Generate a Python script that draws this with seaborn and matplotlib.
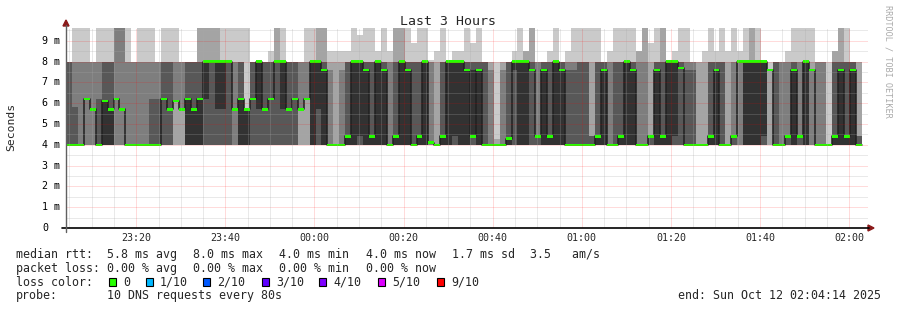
import numpy as np
import pandas as pd
import matplotlib
matplotlib.use("Agg")
import matplotlib.pyplot as plt
from matplotlib.patches import Polygon
import seaborn as sns

sns.set_theme(style="white")
plt.rcParams['font.family'] = ['DejaVu Sans Mono', 'DejaVu Sans']

# ---------------- data ----------------
step_min = 80 / 60.0          # one probe round every 80 s
tick_labels = ["23:20", "23:40", "00:00", "00:20", "00:40",
               "01:00", "01:20", "01:40", "02:00"]
first_tick_min = 15.77         # 23:20 relative to 23:04:14

median_ms = [
    4.0, 4.0, 4.0, 6.2, 5.7, 4.0, 6.1, 5.7, 6.2, 5.7,
    4.0, 4.0, 4.0, 4.0, 4.0, 4.0, 6.2, 5.7, 6.1, 5.7,
    6.2, 5.7, 6.2, 8.0, 8.0, 8.0, 8.0, 8.0, 5.7, 6.2,
    5.7, 6.2, 8.0, 5.7, 6.2, 8.0, 8.0, 5.7, 6.2, 5.7,
    6.2, 8.0, 8.0, 7.6, 4.0, 4.0, 4.0, 4.4, 8.0, 8.0,
    7.6, 4.4, 8.0, 7.6, 4.0, 4.4, 8.0, 7.6, 4.0, 4.4,
    8.0, 4.1, 4.0, 4.4, 8.0, 8.0, 8.0, 7.6, 4.4, 7.6,
    4.0, 4.0, 4.0, 4.0, 4.3, 8.0, 8.0, 8.0, 7.6, 4.4,
    7.6, 4.4, 8.0, 7.6, 4.0, 4.0, 4.0, 4.0, 4.0, 4.4,
    7.6, 4.0, 4.0, 4.4, 8.0, 7.6, 4.0, 4.0, 4.4, 7.6,
    4.4, 8.0, 8.0, 7.7, 4.0, 4.0, 4.0, 4.0, 4.4, 7.6,
    4.0, 4.0, 4.4, 8.0, 8.0, 8.0, 8.0, 8.0, 7.6, 4.0,
    4.0, 4.4, 7.6, 4.4, 8.0, 7.6, 4.0, 4.0, 4.0, 4.4,
    7.6, 4.4, 7.6, 4.0,
]

# sorted ping times of each round, "value*count"
ping_spec = [
    # 0-9
    "4*6 8*4", "4*6 5.8 8*2 9.7", "4*7 8*2 9.7", "4*3 6.2*4 8*2 9.7", "4*3 5.7*4 8*3",
    "4*6 6.2 8*2 9.7", "4*5 6.1 8*3 9.7", "4*5 5.7 8*3 9.7", "4*3 6.2*4 9.7*3", "4*3 5.7*4 9.7*3",
    # 10-19
    "4*7 8*2 9.7", "4*7 8*3", "4*7 8*2 9.7", "4*7 8*2 9.7", "4*6 6.2 8*2 9.7",
    "4*6 6.2 8*3", "4*4 6.2*2 8*3 9.7", "4*4 5.7*2 8*3 9.7", "4*2 6.1*5 8*2 9.7", "4*2 5.7*5 8*3",
    # 20-29
    "4*5 6.2 8*4", "4*5 5.7 8*4", "4*5 6.2 8*2 9.7*2", "4*4 6.2 8*3 9.7*2", "4*4 8*4 9.7*2",
    "4*4 5.7 8*3 9.7*2", "4*4 5.7 8*4 9.7", "4*4 8*5 9.7", "4*3 5.7*4 8*2 9.7", "4*5 6.2 8*3 9.7",
    # 30-39
    "4*5 5.7*4 9.7", "4*4 6.2*2 8*4", "4*4 5.7 8*5", "4*4 5.7*2 8*4", "4*4 6.2*2 8*3 8.5",
    "4*4 8*4 9.7*2", "4*4 5.7 8*4 9.7", "4*4 5.7*2 8*4", "4*4 6.2*2 8*4", "4*2 5.7*5 8*3",
    # 40-49
    "4*2 6.2*5 8*2 9.7", "4*5 8*4 9.7", "4*4 5.7 8*3 9.7*2", "4*5 7.6 8*2 9.7*2", "4*7 7.6 8 8.5",
    "4*8 8 8.5", "4*7 7.6 8 8.5", "4*5 4.4 8*3 8.5", "4*5 8*4 9.7", "4*4 4.4 8*4 9.3",
    # 50-59
    "4*5 7.6 8*3 9.7", "4*5 4.4 8*3 9.7", "4*5 8*4 8.5", "4*5 7.6 8*3 9.7", "4*7 8*2 8.5",
    "4*5 4.4 8*2 9.7*2", "4*5 8*3 9.7*2", "4*5 7.6 8*3 9.7", "4*6 8*3 8.9", "4*5 4.4 8*3 9.7",
    # 60-69
    "4*5 8*4 9.7", "4*7 8*2 8.1", "4*8 8 8.5", "4*5 4.4 8*3 9.7", "4*5 8*5",
    "4*4 4.4 8*4 8.5", "4*5 8*4 8.5", "4*5 7.6 8*3 9.7", "4*4 4.4 7.6 8*3 8.9", "4*5 7.6 8*3 9.7",
    # 70-79
    "4*6 8*4", "4*7 7.6 8*2", "4*8 4.3 8", "4*7 7.6 8*2", "4*5 4.3 8*4",
    "4*4 7.6 8*4 8.5", "4*5 8*4 9.7", "4*5 8*3 8.5*2", "4*4 7.6*2 8*2 9.7*2", "4*4 4.4*3 8*3",
    # 80-89
    "4*5 7.6 8*4", "4*5 4.4 8*3 8.5", "4*5 8*4 9.7", "4*5 7.6 8*4", "4*6 7.6 8*2 8.5",
    "4*6 7.6 8*2 9.7", "4*6 8*3 9.7", "4*6 8*3 9.7", "4*4 4.4*4 8 9.7", "4*5 4.4 8*3 9.7",
    # 90-99
    "4*5 7.6 8*4", "4*7 8*2 8.5", "4*6 8*3 9.7", "4*5 4.4 8*3 9.7", "4*5 8*4 9.7",
    "4*5 7.6 8*3 9.7", "4*7 8 8.5*2", "4*7 8 9.7*2", "4*4 4.4*4 8 8.9", "4*5 7.6 8*3 9.7",
    # 100-109
    "4*5 4.4 8*2 9.7*2", "4*5 8*5", "4*4 4.4 8*4 8.5", "4*4 7.7*2 8*3 9.7", "4*6 7.6 8*2 9.7",
    "4*6 7.6 8*3", "4*8 8*2", "4*8 8 8.5", "4*5 4.4 8*3 9.7", "4*5 7.6 8*3 8.5",
    # 110-119
    "4*6 8*3 9.7", "4*8 8 8.5", "4*4 4.4*3 8*2 9.7", "4*3 8*6 8.5", "4*5 8*4 9.7",
    "4*5 8*3 9.7*2", "4*5 8*4 9.7", "4*4 4.4 8*5", "4*8 7.6 8", "4*6 8*4",
    # 120-129
    "4*7 8*3", "4*4 4.4*3 8*2 8.5", "4*5 7.6 8*3 9.7", "4*4 4.4*3 8*2 9.7", "4*5 8*4 9.7",
    "4*7 7.6 8 9.7", "4*7 8*3", "4*7 8*3", "4*9 8", "4*5 4.4 8*2 8.5*2",
    # 130-133
    "4*5 7.6 8*2 9.7*2", "4*5 4.4 8*3 9.7", "4*5 7.6 8*4", "4*4 4.4*4 8*2",
]

legend_labels = ["0", "1/10", "2/10", "3/10", "4/10", "5/10", "9/10"]
legend_colors = ["#26ff00", "#00b8ff", "#0059ff", "#5e00ff", "#7e00ff", "#dd00ff", "#ff0000"]

# ---------------- build table ----------------
def parse(spec):
    vals = []
    for tok in spec.split():
        if "*" in tok:
            v, n = tok.split("*")
            vals += [float(v)] * int(n)
        else:
            vals.append(float(tok))
    vals = sorted(vals)[:10]
    while len(vals) < 10:
        vals.append(8.0)
    return sorted(vals)

pings = np.array([parse(s) for s in ping_spec])
nb = len(median_ms)
start = np.arange(nb) * step_min
df = pd.DataFrame({"start": start, "median": median_ms})

W, H = 897, 310
fig = plt.figure(figsize=(W / 100, H / 100), dpi=100)
fig.patch.set_facecolor("white")

def fx(px):
    return px / W

def fy(py):
    return 1 - py / H

x0, x1, ytop, ybot = 66, 868, 28, 228
ax = fig.add_axes([fx(x0), fy(ybot), (x1 - x0) / W, (ybot - ytop) / H])
ymax = (ybot - ytop) / 20.8
ax.set_xlim(0, 180)
ax.set_ylim(0, ymax)
ax.set_facecolor("white")
for s in ax.spines.values():
    s.set_visible(False)
ax.set_xticks([])
ax.set_yticks([])

# smoke: band k spans ping k .. ping (11-k)
shades = ["#cacaca", "#a4a4a4", "#7e7e7e", "#585858", "#323232"]
for k in range(5):
    lo = pings[:, k]
    hi = pings[:, 9 - k]
    ax.bar(start, hi - lo, bottom=lo, width=step_min, align="edge",
           color=shades[k], linewidth=0, antialiased=False, zorder=1)

# median black step line
xs = np.append(start, start[-1] + step_min)
ys = np.append(df["median"].values, df["median"].values[-1])
sns.lineplot(x=xs, y=ys, drawstyle="steps-post", color="#202020", lw=1.1,
             ax=ax, estimator=None, zorder=2)

# green median marks (loss 0)
mh = 1.3 / 20.8
ax.bar(df["start"], 2 * mh, bottom=df["median"] - mh, width=step_min,
       align="edge", color=legend_colors[0], linewidth=0, zorder=3)

# grid (dotted)
dot = dict(lw=0.72, ls=(0, (1, 1)), zorder=4)
for v in np.arange(0.5, ymax, 1.0):
    ax.axhline(v, color="#a8a8a8", alpha=0.5, **dot)
for v in np.arange(1, ymax, 1.0):
    ax.axhline(v, color="#ff0000", alpha=0.28, **dot)
ticks = first_tick_min + 20 * np.arange(len(tick_labels))
minor = np.arange(first_tick_min - 15, 180, 5)
for v in minor:
    if min(abs(v - ticks)) > 0.1 and v > 0.2:
        ax.axvline(v, color="#a8a8a8", alpha=0.5, **dot)
for v in ticks:
    ax.axvline(v, color="#ff0000", alpha=0.28, **dot)

# axes lines and arrows
fig.add_artist(plt.Line2D([fx(62), fx(869)], [fy(228), fy(228)], color="black", lw=1.2))
fig.add_artist(plt.Line2D([fx(66), fx(66)], [fy(232), fy(25)], color="#606060", lw=1.0))
arrow_c = "#8b1a1a"
fig.add_artist(Polygon([[fx(63), fy(26)], [fx(69), fy(26)], [fx(66), fy(20)]],
                       closed=True, color=arrow_c, transform=fig.transFigure))
fig.add_artist(Polygon([[fx(868), fy(225)], [fx(868), fy(231)], [fx(874), fy(228)]],
                       closed=True, color=arrow_c, transform=fig.transFigure))

# y tick labels
for v in range(0, 10):
    py = ybot - v * 20.8
    fig.text(fx(42), fy(py), "0" if v == 0 else f"{v} m", fontsize=7.2,
             ha="left", va="center", color="#000000")
# x tick labels
for t, lab in zip(ticks, tick_labels):
    px = x0 + t / 180 * (x1 - x0)
    fig.text(fx(px), fy(240.8), lab, fontsize=7.2, ha="center", va="baseline")

# title / axis label / watermark
fig.text(fx(447.5), fy(25), "Last 3 Hours", fontsize=9.5, ha="center", va="baseline")
fig.text(fx(11), fy(127), "Seconds", fontsize=8.2, rotation=90, ha="center", va="center")
fig.text(fx(888), fy(5), "RRDTOOL / TOBI OETIKER", fontsize=6.1, rotation=270,
         ha="center", va="top", color="#aaaaaa")

# legend text
fs = 8.4
rows = [257.7, 271.7, 285.7, 299.0]
line1 = [(16, "median rtt:"), (107, "5.8 ms avg"), (193, "8.0 ms max"), (279, "4.0 ms min"),
         (366, "4.0 ms now"), (452, "1.7 ms sd"), (530, "3.5   am/s")]
line2 = [(16, "packet loss:"), (107, "0.00 % avg"), (193, "0.00 % max"),
         (279, "0.00 % min"), (366, "0.00 % now")]
for px, s in line1:
    fig.text(fx(px), fy(rows[0]), s, fontsize=fs, ha="left", va="baseline")
for px, s in line2:
    fig.text(fx(px), fy(rows[1]), s, fontsize=fs, ha="left", va="baseline")
fig.text(fx(16), fy(rows[2]), "loss color:", fontsize=fs, ha="left", va="baseline")
sq_x = [109, 146, 203, 262, 319, 378, 437]
for px, lab, col in zip(sq_x, legend_labels, legend_colors):
    fig.add_artist(plt.Rectangle((fx(px), fy(286)), 7 / W, 8 / H, facecolor=col,
                                 edgecolor="black", lw=0.8, transform=fig.transFigure))
    fig.text(fx(px + 14), fy(rows[2]), lab, fontsize=fs, ha="left", va="baseline")
fig.text(fx(16), fy(rows[3]), "probe:", fontsize=fs, ha="left", va="baseline")
fig.text(fx(107), fy(rows[3]), "10 DNS requests every 80s", fontsize=fs, ha="left", va="baseline")
fig.text(fx(678), fy(rows[3]), "end: Sun Oct 12 02:04:14 2025", fontsize=fs, ha="left", va="baseline")

fig.savefig("out.png", dpi=100, facecolor="white")
